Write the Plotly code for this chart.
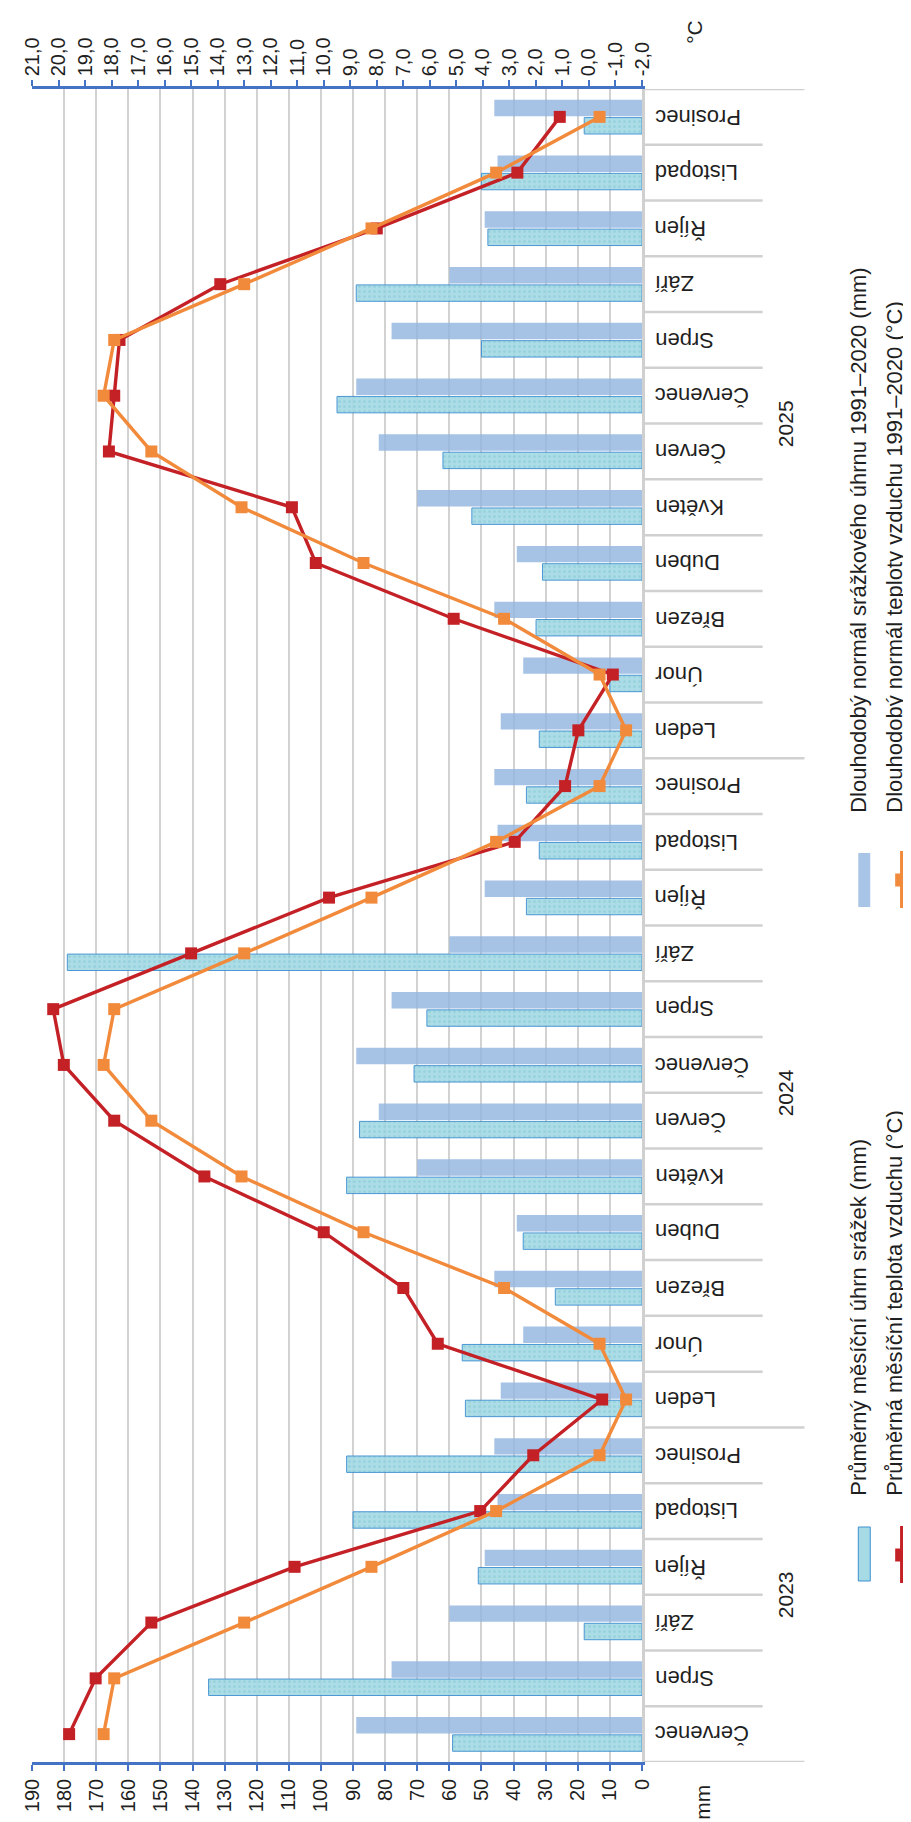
import plotly.graph_objects as go

# ---------------- data ----------------
periods = ["2023-07", "2023-08", "2023-09", "2023-10", "2023-11", "2023-12",
           "2024-01", "2024-02", "2024-03", "2024-04", "2024-05", "2024-06",
           "2024-07", "2024-08", "2024-09", "2024-10", "2024-11", "2024-12",
           "2025-01", "2025-02", "2025-03", "2025-04", "2025-05", "2025-06",
           "2025-07", "2025-08", "2025-09", "2025-10", "2025-11", "2025-12"]
month_labels = ["Červenec", "Srpen", "Září", "Říjen", "Listopad", "Prosinec",
                "Leden", "Únor", "Březen", "Duben", "Květen", "Červen",
                "Červenec", "Srpen", "Září", "Říjen", "Listopad", "Prosinec",
                "Leden", "Únor", "Březen", "Duben", "Květen", "Červen",
                "Červenec", "Srpen", "Září", "Říjen", "Listopad", "Prosinec"]
years = ["2023", "2024", "2025"]
year_centers = [2.5, 11.5, 23.5]
year_bounds = [-0.5, 5.5, 17.5, 29.5]

precip_actual = [59, 135, 18, 51, 90, 92,
                 55, 56, 27, 37, 92, 88, 71, 67, 179, 36, 32, 36,
                 32, 10, 33, 31, 53, 62, 95, 50, 89, 48, 50, 18]
precip_normal = [89, 78, 60, 49, 45, 46,
                 44, 37, 46, 39, 70, 82, 89, 78, 60, 49, 45, 46,
                 44, 37, 46, 39, 70, 82, 89, 78, 60, 49, 45, 46]
temp_actual = [19.6, 18.6, 16.5, 11.1, 4.1, 2.1,
               -0.5, 5.7, 7.0, 10.0, 14.5, 17.9, 19.8, 20.2, 15.0, 9.8, 2.8, 0.9,
               0.4, -0.9, 5.1, 10.3, 11.2, 18.1, 17.9, 17.7, 13.9, 8.0, 2.7, 1.1]
temp_normal = [18.3, 17.9, 13.0, 8.2, 3.5, -0.4,
               -1.4, -0.4, 3.2, 8.5, 13.1, 16.5, 18.3, 17.9, 13.0, 8.2, 3.5, -0.4,
               -1.4, -0.4, 3.2, 8.5, 13.1, 16.5, 18.3, 17.9, 13.0, 8.2, 3.5, -0.4]

mm_ticks = [0, 10, 20, 30, 40, 50, 60, 70, 80, 90, 100, 110, 120, 130, 140, 150, 160, 170, 180, 190]
temp_tickvals = [-2, -1, 0, 1, 2, 3, 4, 5, 6, 7, 8, 9, 10, 11, 12, 13, 14, 15, 16, 17, 18, 19, 20, 21]
temp_ticktext = ["-2,0", "-1,0", "0,0", "1,0", "2,0", "3,0", "4,0", "5,0", "6,0", "7,0", "8,0", "9,0",
                 "10,0", "11,0", "12,0", "13,0", "14,0", "15,0", "16,0", "17,0", "18,0", "19,0",
                 "20,0", "21,0"]

legend_texts = ["Průměrný měsíční úhrn srážek (mm)",
                "Průměrná měsíční teplota vzduchu (°C)",
                "Dlouhodobý normál srážkového úhrnu 1991–2020 (mm)",
                "Dlouhodobý normál teploty vzduchu 1991–2020 (°C)"]

# ---------------- styling ----------------
W, H = 911, 1822
L, R, T, B = 22, 634, 81, 1754
FONT = "Liberation Sans, Arial, sans-serif"
TXT = "#1f1f1f"
RED = "#c42127"
ORANGE = "#f28a3c"
NORMAL_BAR = "#93b6e1"
ACT_BAR = "#a6dbe6"
AXIS_BLUE = "#4472c4"
GRID = "#d2d2d2"


def px(xp):
    return (xp - L) / (R - L)


def py(yp):
    return (B - yp) / (B - T)


fig = go.Figure()

fig.add_trace(go.Bar(
    y=periods, x=precip_actual, orientation="h", name=legend_texts[0],
    marker=dict(color=ACT_BAR, line=dict(color="#3d8fd1", width=1),
                pattern=dict(shape=".", fgcolor="#79c3d2", size=5, solidity=0.3, fillmode="overlay")),
    opacity=0.92, xaxis="x", yaxis="y", showlegend=False))
fig.add_trace(go.Bar(
    y=periods, x=precip_normal, orientation="h", name=legend_texts[2],
    marker=dict(color=NORMAL_BAR, line=dict(width=0)),
    opacity=0.82, xaxis="x", yaxis="y", showlegend=False))

fig.add_trace(go.Scatter(
    y=periods, x=temp_actual, mode="lines+markers", name=legend_texts[1],
    line=dict(color=RED, width=3.4), marker=dict(symbol="square", size=12, color=RED),
    xaxis="x2", yaxis="y", showlegend=False))
fig.add_trace(go.Scatter(
    y=periods, x=temp_normal, mode="lines+markers", name=legend_texts[3],
    line=dict(color=ORANGE, width=3.4), marker=dict(symbol="square", size=12, color=ORANGE),
    xaxis="x2", yaxis="y", showlegend=False))

fig.update_layout(
    width=W, height=H,
    margin=dict(l=L, r=W - R, t=T, b=H - B, pad=0),
    paper_bgcolor="white", plot_bgcolor="white",
    barmode="group", bargap=0.36, bargroupgap=0.08,
    font=dict(family=FONT, size=20, color=TXT),
    xaxis=dict(range=[190, 0], tickvals=mm_ticks, side="bottom",
               showgrid=True, gridcolor=GRID, gridwidth=1.5, zeroline=False,
               showline=True, linecolor=AXIS_BLUE, linewidth=2.5,
               ticks="outside", ticklen=6, tickwidth=1.5, tickcolor=AXIS_BLUE,
               tickangle=-90, tickfont=dict(size=20, color=TXT, family=FONT)),
    xaxis2=dict(range=[21, -2], tickvals=temp_tickvals, ticktext=temp_ticktext,
                overlaying="x", side="top", anchor="y",
                showgrid=False, zeroline=False,
                showline=True, linecolor=AXIS_BLUE, linewidth=2.5,
                ticks="outside", ticklen=6, tickwidth=1.5, tickcolor=AXIS_BLUE,
                tickangle=-90, tickfont=dict(size=20, color=TXT, family=FONT)),
    yaxis=dict(type="category", categoryorder="array", categoryarray=periods,
               range=[-0.5, 29.5], side="right", showticklabels=False,
               showgrid=False, zeroline=False,
               showline=True, linecolor="#d0d0d0", linewidth=2.5, ticks=""),
)

shapes = []
annotations = []

# category separators
for i in range(31):
    b = i - 0.5
    long = b in year_bounds
    x1 = 797 if long else 755
    shapes.append(dict(type="line", xref="paper", yref="y",
                       x0=px(R + 1), x1=px(x1), y0=b, y1=b,
                       line=dict(color="#d0d0d0", width=2.5)))

# month labels (rotated 180)
for p, lab in zip(periods, month_labels):
    annotations.append(dict(text=lab, xref="paper", yref="y", x=px(645), y=p,
                            xanchor="left", yanchor="middle", textangle=180,
                            showarrow=False, font=dict(size=22, color=TXT, family=FONT)))

# year labels
for yr, c in zip(years, year_centers):
    annotations.append(dict(text=yr, xref="paper", yref="y", x=px(778), y=c,
                            xanchor="center", yanchor="middle", textangle=-90,
                            showarrow=False, font=dict(size=21, color=TXT, family=FONT)))

# axis unit labels
annotations.append(dict(text="°C", xref="paper", yref="paper", x=px(686), y=py(24),
                        xanchor="center", yanchor="middle", textangle=-90, showarrow=False,
                        font=dict(size=21, color=TXT, family=FONT)))
annotations.append(dict(text="mm", xref="paper", yref="paper", x=px(694), y=py(1794),
                        xanchor="center", yanchor="middle", textangle=-90, showarrow=False,
                        font=dict(size=21, color=TXT, family=FONT)))

# legend texts
leg_pos = [(851, 1490), (887, 1490), (851, 807), (887, 807)]
for t, (lx, ly) in zip(legend_texts, leg_pos):
    annotations.append(dict(text=t, xref="paper", yref="paper", x=px(lx), y=py(ly),
                            xanchor="center", yanchor="bottom", textangle=-90, showarrow=False,
                            font=dict(size=22, color=TXT, family=FONT)))

# legend symbols
shapes.append(dict(type="rect", xref="paper", yref="paper",
                   x0=px(851), x1=px(863), y0=py(1573), y1=py(1519),
                   fillcolor=ACT_BAR, line=dict(color="#3d8fd1", width=1)))
shapes.append(dict(type="rect", xref="paper", yref="paper",
                   x0=px(851), x1=px(863), y0=py(899), y1=py(845),
                   fillcolor="#a8c4e6", line=dict(width=0)))
for col, yt, yb, yc in [(RED, 1518, 1575, 1547), (ORANGE, 843, 900, 872)]:
    shapes.append(dict(type="line", xref="paper", yref="paper",
                       x0=px(894.5), x1=px(894.5), y0=py(yb), y1=py(yt),
                       line=dict(color=col, width=3.2)))
    shapes.append(dict(type="rect", xref="paper", yref="paper",
                       x0=px(888), x1=px(901), y0=py(yc + 6.5), y1=py(yc - 6.5),
                       fillcolor=col, line=dict(width=0)))

fig.update_layout(shapes=shapes, annotations=annotations)

fig.write_html("out.html")
